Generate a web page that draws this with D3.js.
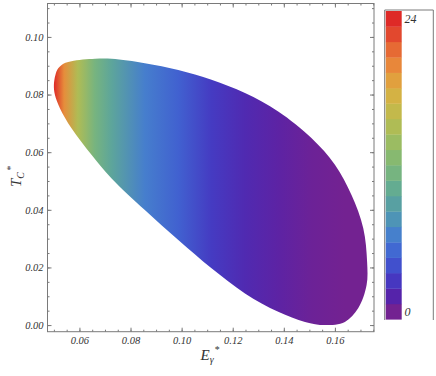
<!DOCTYPE html>
<html>
<head>
<meta charset="utf-8">
<script src="https://cdn.jsdelivr.net/npm/d3@7"></script>
<style>
  body { margin: 0; background: #fff; }
  svg { display: block; }
  text { font-family: "Liberation Serif", "DejaVu Serif", serif; font-style: italic; }
</style>
</head>
<body>
<script>
	// boundary of the region (E, T), going clockwise from the left tip
	var boundE = [0.0500, 0.0506, 0.0517, 0.0539, 0.0569, 0.0661, 0.0726, 0.0856, 0.0987, 0.1117, 0.1248, 0.1378,
		0.1509, 0.1600, 0.1665, 0.1711, 0.1726, 0.1724, 0.1691, 0.1639, 0.1561, 0.1483,
		0.1378, 0.1248, 0.1117, 0.0987, 0.0856, 0.0726, 0.0648, 0.0569, 0.0524, 0.0504];
	var boundT = [0.0833, 0.0868, 0.0891, 0.0908, 0.0916, 0.0924, 0.0924, 0.0909, 0.0885, 0.0851, 0.0805, 0.0741,
		0.0648, 0.0556, 0.0451, 0.0336, 0.0220, 0.0139, 0.0058, 0.0011, 0.0000, 0.0011,
		0.0046, 0.0110, 0.0197, 0.0295, 0.0399, 0.0509, 0.0590, 0.0683, 0.0752, 0.0799];

	// colour value along E
	var shadeE = [0.050, 0.054, 0.0594, 0.066, 0.0726, 0.0856, 0.0987, 0.1117, 0.1248, 0.1378, 0.1509, 0.1639, 0.1726];
	var shadeV = [24, 19.5, 15, 11.5, 9.5, 6.5, 5, 3.2, 2.2, 1.5, 0.9, 0.5, 0.3];

	var xTicks = [0.06, 0.08, 0.10, 0.12, 0.14, 0.16];
	var yTicks = [0.00, 0.02, 0.04, 0.06, 0.08, 0.10];
	var legendLabels = [0, 24];
	var nBands = 20;

	// rainbow palette, bottom band first
	var palette = ["#732291", "#5523aa", "#4637c0", "#4150cd", "#4169d2", "#4680cc", "#4e94b6", "#58a0a2",
		"#64ac91", "#76b480", "#87b970", "#9bbc62", "#afbc55", "#c3b94b", "#d4b244", "#e1a03e",
		"#e8873a", "#e66a34", "#e2482e", "#de2a27"];

	var svg_w = 436, svg_h = 376;
	var svg = d3.select("body").append("svg")
		.attr("width", svg_w)
		.attr("height", svg_h);

	var pLeft = 47.5, pRight = 374, pTop = 3.5, pBottom = 331.7;

	var x = d3.scaleLinear().domain([0.0475, 0.1753]).range([pLeft, pRight]);
	var y = d3.scaleLinear().domain([-0.0023, 0.1116]).range([pBottom, pTop]);

	var bandStep = 24 / nBands;
	var color = d3.scaleLinear()
		.domain(d3.range(nBands).map(function(i) { return bandStep * (i + 0.5); }))
		.range(palette)
		.clamp(true);

	// gradient along E
	var grad = svg.append("defs").append("linearGradient")
		.attr("id", "shade")
		.attr("gradientUnits", "userSpaceOnUse")
		.attr("x1", x(shadeE[0])).attr("x2", x(shadeE[shadeE.length - 1]))
		.attr("y1", 0).attr("y2", 0);
	var span = x(shadeE[shadeE.length - 1]) - x(shadeE[0]);
	grad.selectAll("stop")
		.data(shadeE)
		.enter().append("stop")
		.attr("offset", function(d) { return (x(d) - x(shadeE[0])) / span; })
		.attr("stop-color", function(d, i) { return color(shadeV[i]); });

	var pts = boundE.map(function(e, i) { return [x(e), y(boundT[i])]; });
	svg.append("path")
		.attr("d", d3.line().curve(d3.curveCatmullRomClosed.alpha(0.5))(pts))
		.attr("fill", "url(#shade)");

	// frame and ticks
	var frameColor = "#7a7a7a";
	var minorX = d3.range(0.05, 0.1751, 0.005);
	var minorY = d3.range(0, 0.1101, 0.005);

	function styleAxis(g) {
		g.select(".domain").remove();
		g.attr("font-family", null).attr("font-size", null);
		g.selectAll("line").attr("stroke", frameColor);
		g.selectAll("text")
			.attr("fill", "#333")
			.style("font-family", "'Liberation Serif', serif")
			.style("font-style", "italic")
			.style("font-size", "10.5px");
	}

	svg.append("g").attr("transform", "translate(0," + pBottom + ")")
		.call(d3.axisBottom(x).tickValues(minorX).tickSize(-2).tickFormat(""))
		.call(styleAxis);
	svg.append("g").attr("transform", "translate(0," + pBottom + ")")
		.call(d3.axisBottom(x).tickValues(xTicks).tickSize(-4).tickPadding(4.5).tickFormat(d3.format(".2f")))
		.call(styleAxis);
	svg.append("g").attr("transform", "translate(0," + pTop + ")")
		.call(d3.axisTop(x).tickValues(minorX).tickSize(-2).tickFormat(""))
		.call(styleAxis);
	svg.append("g").attr("transform", "translate(0," + pTop + ")")
		.call(d3.axisTop(x).tickValues(xTicks).tickSize(-4).tickFormat(""))
		.call(styleAxis);

	svg.append("g").attr("transform", "translate(" + pLeft + ",0)")
		.call(d3.axisLeft(y).tickValues(minorY).tickSize(-2).tickFormat(""))
		.call(styleAxis);
	svg.append("g").attr("transform", "translate(" + pLeft + ",0)")
		.call(d3.axisLeft(y).tickValues(yTicks).tickSize(-4).tickPadding(4).tickFormat(d3.format(".2f")))
		.call(styleAxis);
	svg.append("g").attr("transform", "translate(" + pRight + ",0)")
		.call(d3.axisRight(y).tickValues(minorY).tickSize(-2).tickFormat(""))
		.call(styleAxis);
	svg.append("g").attr("transform", "translate(" + pRight + ",0)")
		.call(d3.axisRight(y).tickValues(yTicks).tickSize(-4).tickFormat(""))
		.call(styleAxis);

	svg.append("rect")
		.attr("x", pLeft).attr("y", pTop)
		.attr("width", pRight - pLeft).attr("height", pBottom - pTop)
		.attr("fill", "none").attr("stroke", frameColor).attr("stroke-width", 1);

	// axis titles
	var xt = svg.append("text").attr("x", 200.5).attr("y", 360)
		.attr("font-size", "15px").attr("fill", "#333");
	xt.append("tspan").text("E");
	xt.append("tspan").attr("font-size", "10px").attr("dy", 3).text("γ");
	xt.append("tspan").attr("font-size", "10px").attr("dy", -10).attr("dx", 0.5).text("*");

	var yt = svg.append("text").attr("transform", "translate(21,187) rotate(-90)")
		.attr("font-size", "15px").attr("fill", "#333");
	yt.append("tspan").text("T");
	yt.append("tspan").attr("font-size", "10px").attr("dy", 3).text("C");
	yt.append("tspan").attr("font-size", "10px").attr("dy", -10).attr("dx", 1).text("*");

	// colour legend
	var lgTop = 11, lgBottom = 319.3, lgX = 385.7, lgW = 16;
	var cy = d3.scaleLinear().domain([0, 24]).range([lgBottom, lgTop]);
	svg.append("g").selectAll("rect")
		.data(d3.range(nBands))
		.enter().append("rect")
		.attr("x", lgX)
		.attr("y", function(i) { return cy(bandStep * (i + 1)); })
		.attr("width", lgW)
		.attr("height", function(i) { return cy(bandStep * i) - cy(bandStep * (i + 1)) + 0.3; })
		.attr("fill", function(i) { return palette[i]; });

	svg.append("path")
		.attr("d", "M384.7,320V10H433.3V320")
		.attr("fill", "none").attr("stroke", frameColor).attr("stroke-width", 1);

	svg.append("g").selectAll("text")
		.data(legendLabels)
		.enter().append("text")
		.attr("x", 404.5)
		.attr("y", function(d) { return d == 0 ? cy(bandStep / 2) : cy(24 - bandStep / 2); })
		.attr("dy", "0.35em")
		.attr("font-size", "12px")
		.attr("fill", "#333")
		.text(function(d) { return d; });
</script>
</body>
</html>
